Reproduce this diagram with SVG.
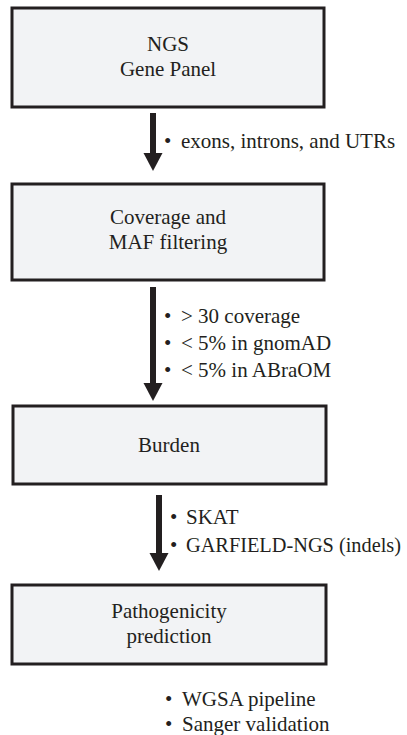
<svg xmlns="http://www.w3.org/2000/svg" width="407" height="735" viewBox="0 0 407 735">
<style>
.box{fill:#f2f3f5;stroke:#231f20;stroke-width:3}
.t{font-family:"Liberation Serif",serif;font-size:21px;fill:#231f20}
.c{text-anchor:middle}
.b{font-family:"Liberation Serif",serif;font-size:21px;fill:#231f20}
.shaft{stroke:#231f20;stroke-width:6;fill:none}
.head{fill:#231f20}
</style>
<rect width="407" height="735" fill="#ffffff"/>
<g id="n1"><rect class="box" x="12" y="8" width="312" height="99"/><text class="t c" x="168" y="51">NGS</text><text class="t c" x="168" y="76">Gene Panel</text></g>
<g id="n2"><rect class="box" x="12" y="184" width="312" height="96"/><text class="t c" x="168" y="224">Coverage and</text><text class="t c" x="168" y="249">MAF filtering</text></g>
<g id="n3"><rect class="box" x="13" y="406" width="313" height="78"/><text class="t c" x="169" y="452">Burden</text></g>
<g id="n4"><rect class="box" x="12" y="585" width="314" height="79"/><text class="t c" x="169" y="618">Pathogenicity</text><text class="t c" x="169" y="643">prediction</text></g>
<g id="connectors">
<line class="shaft" x1="153" y1="113" x2="153" y2="155"/><polygon class="head" points="143.5,153 162.5,153 153,171"/>
<line class="shaft" x1="153" y1="287" x2="153" y2="385"/><polygon class="head" points="143.5,383 162.5,383 153,401"/>
<line class="shaft" x1="159" y1="495" x2="159" y2="555"/><polygon class="head" points="149.5,553 168.5,553 159,571"/>
</g>
<g id="labels">
<text class="b" x="164" y="148">•</text><text class="t" x="181" y="148">exons, introns, and UTRs</text>
<text class="b" x="164" y="323">•</text><text class="t" x="181" y="323">&gt; 30 coverage</text>
<text class="b" x="164" y="350">•</text><text class="t" x="181" y="350">&lt; 5% in gnomAD</text>
<text class="b" x="164" y="377">•</text><text class="t" x="181" y="377">&lt; 5% in ABraOM</text>
<text class="b" x="170" y="524">•</text><text class="t" x="186" y="524">SKAT</text>
<text class="b" x="170" y="552">•</text><text class="t" x="186" y="552" textLength="215" lengthAdjust="spacingAndGlyphs">GARFIELD-NGS (indels)</text>
<text class="b" x="165" y="706">•</text><text class="t" x="182" y="706">WGSA pipeline</text>
<text class="b" x="165" y="731">•</text><text class="t" x="182" y="731">Sanger validation</text>
</g>
</svg>
